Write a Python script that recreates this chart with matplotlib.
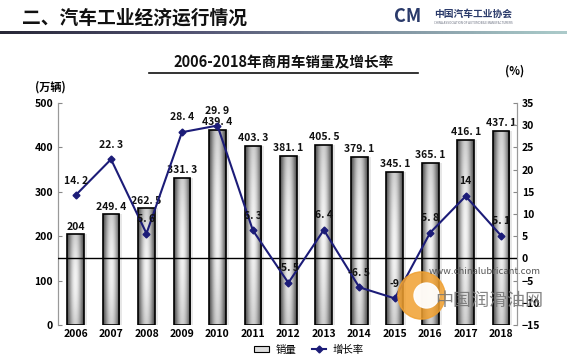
import numpy as np
import matplotlib
matplotlib.use('Agg')
import matplotlib.pyplot as plt
from matplotlib.patches import Rectangle, Patch
from matplotlib.lines import Line2D

plt.rcParams['font.family'] = ['Noto Sans CJK SC', 'DejaVu Sans']

years = ['2006', '2007', '2008', '2009', '2010', '2011', '2012',
         '2013', '2014', '2015', '2016', '2017', '2018']
sales = [204, 249.4, 262.5, 331.3, 439.4, 403.3, 381.1,
         405.5, 379.1, 345.1, 365.1, 416.1, 437.1]
growth = [14.2, 22.3, 5.6, 28.4, 29.9, 6.3, -5.5,
          6.4, -6.5, -9, 5.8, 14, 5.1]
growth_labels = ['14.2', '22.3', '5.6', '28.4', '29.9', '6.3', '-5.5',
                 '6.4', '-6.5', '-9', '5.8', '14', '5.1']

navy = '#1c1c78'
x = np.arange(len(years))

fig = plt.figure(figsize=(5.67, 3.56), dpi=100)

# header
fig.text(0.038, 0.948, '二、汽车工业经济运行情况', fontsize=13.5, fontweight='heavy',
         va='center', ha='left', color='#111111')
fig.text(0.695, 0.955, 'CM', fontsize=13, fontweight='bold', style='italic',
         color='#2a3a6a', va='center', ha='left')
fig.text(0.765, 0.962, '中国汽车工业协会', fontsize=7, fontweight='bold',
         color='#2a3a6a', va='center', ha='left')
fig.text(0.765, 0.935, 'CHINA ASSOCIATION OF AUTOMOBILE MANUFACTURERS', fontsize=2.2,
         color='#6a7080', va='center', ha='left')
hx = fig.add_axes([0.0, 0.905, 1.0, 0.008])
hx.imshow(np.linspace(0, 1, 256)[None, :], aspect='auto', cmap='bone',
          vmin=-0.3, vmax=1.4, extent=[0, 1, 0, 1])
hx.axis('off')

fig.text(0.5, 0.826, '2006-2018年商用车销量及增长率', fontsize=10.5, fontweight='heavy',
         ha='center', va='center', color='#111111')
fig.add_artist(Line2D([0.262, 0.738], [0.796, 0.796], color='#111111', lw=1.2,
                      transform=fig.transFigure))

fig.text(0.062, 0.755, '(万辆)', fontsize=8, fontweight='bold', ha='left', va='center')
fig.text(0.89, 0.80, '(%)', fontsize=8, fontweight='bold', ha='left', va='center')

ax = fig.add_axes([0.102, 0.087, 0.81, 0.624])
ax2 = ax.twinx()

ax.set_ylim(0, 500)
ax.set_xlim(-0.5, 12.45)
ax2.set_ylim(-15, 35)

bw = 0.47
bars = ax.bar(x, sales, width=bw, facecolor='none', edgecolor='black', lw=1.2, zorder=3)
prof = np.linspace(-1, 1, 64)
grad = 0.35 + 0.6 * (1 - prof ** 2) ** 1.5
vert = np.linspace(0, 1, 64)
img = grad[None, :] * (0.85 + 0.15 * np.sin(np.pi * vert))[:, None]
for b in bars:
    x0, w, h = b.get_x(), b.get_width(), b.get_height()
    ax.add_patch(Rectangle((x0 + w * 0.18, 0), w, h, facecolor='#d8d8d8',
                           edgecolor='none', alpha=0.6, zorder=1))
    im = ax.imshow(img, cmap='gray', vmin=0, vmax=1, aspect='auto',
                   extent=[x0, x0 + w, 0, h], origin='lower', zorder=2)
    im.set_clip_path(b)
for xi, v in zip(x, sales):
    lbl = ('%g' % v).replace('.', '. ')
    ax.text(xi, v + 6, lbl, ha='center', va='bottom', fontsize=7.5,
            fontweight='bold', color='#111111', zorder=5)

ax2.axhline(0, color='black', lw=1.0, zorder=4)
ax2.plot(x, growth, color=navy, lw=1.5, marker='D', markersize=3.5, zorder=6)
for xi, v, t in zip(x, growth, growth_labels):
    ax2.annotate(t.replace('.', '. '), (xi, v), xytext=(0, 7), textcoords='offset points',
                 ha='center', va='bottom', fontsize=7.5, fontweight='bold',
                 color='#111111', zorder=7)

ax.set_xticks(x)
ax.set_xticklabels(years, fontsize=7.5, fontweight='bold')
ax.tick_params(axis='x', length=0, pad=3)
ax.set_yticks(range(0, 501, 100))
ax.tick_params(axis='y', labelsize=7.5, direction='in', length=3, color='#888888')
for t in ax.get_yticklabels():
    t.set_fontweight('bold')
ax2.set_yticks(range(-15, 36, 5))
ax2.tick_params(axis='y', labelsize=7.5, direction='in', length=3, color='#888888')
for t in ax2.get_yticklabels():
    t.set_fontweight('bold')

for a in (ax, ax2):
    a.spines['top'].set_visible(False)
    a.spines['bottom'].set_visible(False)
    a.spines['left'].set_color('#999999')
    a.spines['right'].set_color('#999999')
    a.patch.set_visible(False)

handles = [Patch(facecolor='#dddddd', edgecolor='black', lw=0.8),
           Line2D([], [], color=navy, lw=1.5, marker='D', markersize=3.5)]
fig.legend(handles, ['销量', '增长率'], loc='center', bbox_to_anchor=(0.545, 0.018),
           ncol=2, frameon=False, fontsize=7.5, handlelength=1.4, handleheight=0.6,
           handletextpad=0.6, columnspacing=1.5, borderpad=0.1)

# watermark
fig.add_artist(Line2D([0.742], [0.17], marker='o', markersize=34, color='#f0a030',
                      alpha=0.85, transform=fig.transFigure, zorder=10))
fig.add_artist(Line2D([0.752], [0.17], marker='o', markersize=18, color='white',
                      alpha=0.95, transform=fig.transFigure, zorder=11))
fig.text(0.855, 0.238, 'www.chinalubricant.com', fontsize=6.8, color='#555555',
         ha='center', va='center', zorder=12)
fig.text(0.862, 0.155, '中国润滑油网', fontsize=13, color='#777777',
         ha='center', va='center', alpha=0.9, zorder=12)

fig.savefig('out.png', dpi=100)
